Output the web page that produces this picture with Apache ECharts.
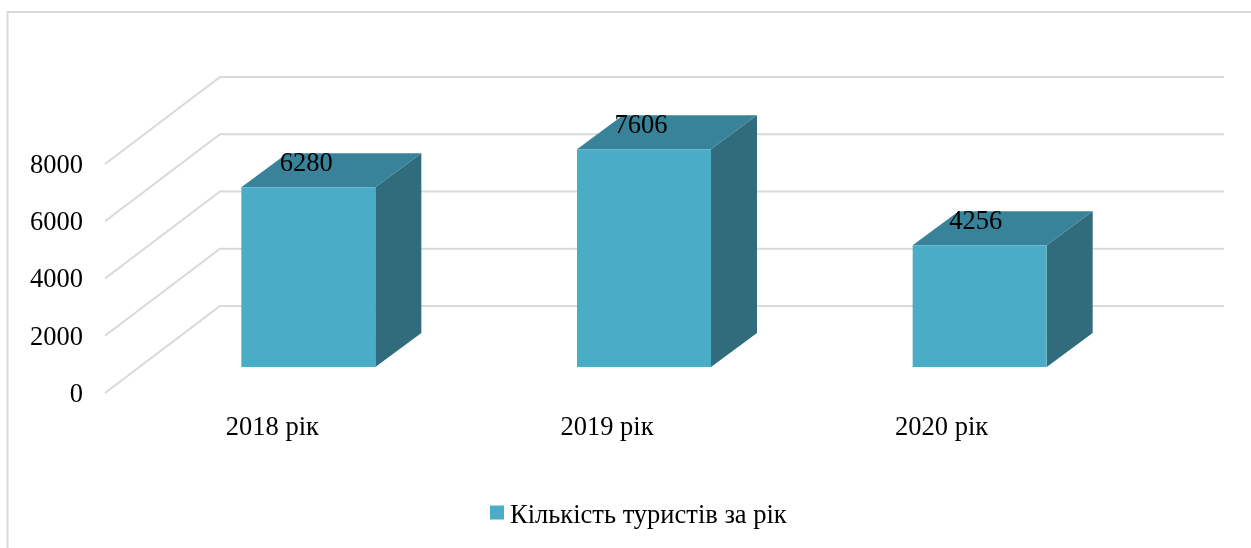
<!DOCTYPE html>
<html>
<head>
<meta charset="utf-8">
<title>Кількість туристів за рік</title>
<style>
  html, body { margin: 0; padding: 0; background: #fff; }
  #chart { width: 1251px; height: 548px; }
</style>
<script src="https://cdn.jsdelivr.net/npm/echarts@6/dist/echarts.min.js"></script>
</head>
<body>
<div id="chart"></div>
<script>
const categories = [ '2018 рік', '2019 рік', '2020 рік' ]
const tourists = [ 6280, 7606, 4256 ]
const yTicks = [ 0, 2000, 4000, 6000, 8000 ]
const seriesName = 'Кількість туристів за рік'

const FONT = '"Liberation Serif", "Times New Roman", serif'
const FONT_SIZE = 26.5
const LINE = '#d9d9d9'
const FRONT = '#4aacc6'
const TOP = '#38839a'
const SIDE = '#306c7c'

// fake 3d: pixel shift of the back wall and of the bars inside the floor
const WALL_DX = 115
const WALL_DY = -87
const BAR_DX = 36
const BAR_DY = -26
const DEPTH_DX = 46
const DEPTH_DY = -34
const BAR_WIDTH = 134
const LABEL_DX = 34

// plain label padding gets ignored, a rich token is what moves the text down
const lowered = ( top, left ) => ( {
  t : { fontFamily : FONT, fontSize : FONT_SIZE, color : '#000', padding : [ top, 0, 0, left ] }
} )

const renderWall = ( params, api ) => {
  const box = params.coordSys
  const y = api.coord( [ 0, api.value( 0 ) ] )[ 1 ]
  return {
    type : 'polyline',
    shape : {
      points : [
        [ box.x, y ],
        [ box.x + WALL_DX, y + WALL_DY ],
        [ box.x + box.width + WALL_DX, y + WALL_DY ]
      ]
    },
    style : { stroke : LINE, lineWidth : 2, fill : null }
  }
}

const renderBar = ( params, api ) => {
  const top = api.coord( [ api.value( 0 ), api.value( 1 ) ] )
  const base = api.coord( [ api.value( 0 ), 0 ] )
  // bars sit about a pixel further apart than the category labels
  const x0 = top[ 0 ] + BAR_DX + params.dataIndex - BAR_WIDTH / 2
  const x1 = x0 + BAR_WIDTH
  const yTop = top[ 1 ] + BAR_DY
  const yBase = base[ 1 ] + BAR_DY
  return {
    type : 'group',
    children : [
      {
        type : 'polygon',
        shape : { points : [ [ x1, yTop ], [ x1 + DEPTH_DX, yTop + DEPTH_DY ], [ x1 + DEPTH_DX, yBase + DEPTH_DY ], [ x1, yBase ] ] },
        style : { fill : SIDE }
      },
      {
        type : 'polygon',
        shape : { points : [ [ x0, yTop ], [ x0 + DEPTH_DX, yTop + DEPTH_DY ], [ x1 + DEPTH_DX, yTop + DEPTH_DY ], [ x1, yTop ] ] },
        style : { fill : TOP }
      },
      {
        type : 'rect',
        shape : { x : x0, y : yTop, width : BAR_WIDTH, height : yBase - yTop },
        style : { fill : FRONT }
      },
      {
        type : 'text',
        x : top[ 0 ] + LABEL_DX,
        y : yTop - 23,
        style : {
          text : String( api.value( 1 ) ),
          font : FONT_SIZE + 'px ' + FONT,
          fill : '#000',
          align : 'center',
          verticalAlign : 'middle'
        }
      }
    ]
  }
}

const chart = echarts.init( document.getElementById( 'chart' ) )

chart.setOption( {
  animation : false,
  backgroundColor : '#fff',
  graphic : [
    {
      type : 'polyline',
      silent : true,
      shape : { points : [ [ 7.5, 548 ], [ 7.5, 12 ], [ 1251, 12 ] ] },
      style : { stroke : LINE, lineWidth : 2, fill : null }
    }
  ],
  legend : {
    data : [ seriesName ],
    left : 490,
    top : 503,
    icon : 'rect',
    itemWidth : 14,
    itemHeight : 14,
    itemGap : 0,
    padding : 0,
    selectedMode : false,
    formatter : name => `{t|${ name }}`,
    textStyle : { fontFamily : FONT, fontSize : FONT_SIZE, color : '#000', rich : lowered( 8, 1 ) }
  },
  grid : {
    left : 105,
    top : 164,
    width : 1004,
    height : 229
  },
  xAxis : {
    type : 'category',
    data : categories,
    axisLine : { show : false },
    axisTick : { show : false },
    axisLabel : { fontFamily : FONT, fontSize : FONT_SIZE, color : '#000', margin : 22 }
  },
  yAxis : {
    type : 'value',
    min : 0,
    max : 8000,
    interval : 2000,
    axisLine : { show : false },
    axisTick : { show : false },
    splitLine : { show : false },
    axisLabel : {
      fontFamily : FONT,
      fontSize : FONT_SIZE,
      color : '#000',
      margin : 22,
      formatter : v => `{t|${ v }}`,
      rich : lowered( 4, 0 )
    }
  },
  series : [
    {
      name : 'wall',
      type : 'custom',
      silent : true,
      renderItem : renderWall,
      data : yTicks.map( v => [ v ] ),
      encode : { y : 0 },
      z : 1
    },
    {
      name : seriesName,
      type : 'custom',
      renderItem : renderBar,
      data : tourists.map( ( v, i ) => [ i, v ] ),
      encode : { x : 0, y : 1 },
      itemStyle : { color : FRONT },
      clip : false,
      z : 2
    }
  ]
} )
</script>
</body>
</html>
